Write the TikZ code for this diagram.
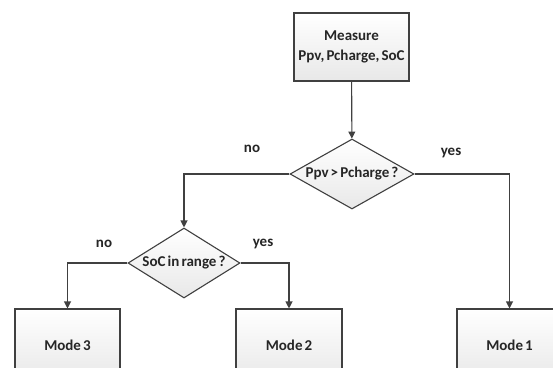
\documentclass[tikz,border=0pt]{standalone}
\usepackage{fontspec}
\setmainfont{Carlito}
\usetikzlibrary{shapes.geometric,arrows.meta}
\definecolor{ln}{HTML}{404040}
\newcommand{\txtfont}{\fontsize{15}{20}\selectfont\bfseries\spaceskip=0.14em\relax}
\tikzset{
  base/.style={draw=ln, line width=1.1pt, top color=white, bottom color=black!9, font=\txtfont, align=center, text=black!85},
  procbox/.style={base, rectangle, inner sep=0pt},
  decision/.style={base, diamond, inner sep=0pt, shape aspect=1.7},
  conn/.style={draw=ln, line width=1.1pt, -{Triangle[length=7pt,width=7pt]}},
  lbl/.style={font=\txtfont, text=black!85, inner sep=0pt}
}
\begin{document}
\begin{tikzpicture}[x=1pt,y=-1pt]
\clip (0,0) rectangle (553,367);
\fill[white] (0,0) rectangle (553,367);
\node[procbox, minimum width=115pt, minimum height=68pt] (measure) at (351.5,47) {Measure\\Ppv, Pcharge, SoC};
\node[decision, minimum width=124pt, minimum height=70pt] (d1) at (352,174) {Ppv > Pcharge ?};
\node[decision, minimum width=112pt, minimum height=70pt] (d2) at (184,263) {SoC in range ?};
\node[procbox, minimum width=105pt, minimum height=72pt] (m3) at (67.5,345) {Mode 3};
\node[procbox, minimum width=106pt, minimum height=72pt] (m2) at (289,345) {Mode 2};
\node[procbox, minimum width=105pt, minimum height=72pt] (m1) at (509.5,345) {Mode 1};
\draw[conn] (measure) -- (d1);
\draw[conn] (d1.west) -| (d2.north);
\draw[conn] (d1.east) -| (m1.north);
\draw[conn] (d2.west) -| (m3.north);
\draw[conn] (d2.east) -| (m2.north);
\node[lbl] (no1) at (252,149) {no};
\node[lbl] (yes1) at (451,153) {yes};
\node[lbl] (no2) at (104,244) {no};
\node[lbl] (yes2) at (263,244) {yes};
\end{tikzpicture}
\end{document}
